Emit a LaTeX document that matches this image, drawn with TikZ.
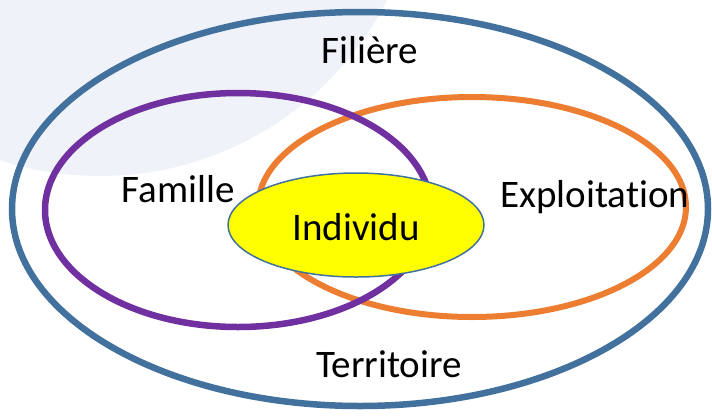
\documentclass[tikz,border=0pt]{standalone}
\usepackage{fontspec}
\setmainfont{Carlito}[Ligatures={NoCommon}]
\usepackage{tikz}
\usepackage{xcolor}
\usetikzlibrary{shapes.geometric,positioning}
\definecolor{filiere}{RGB}{65,113,156}
\definecolor{famille}{RGB}{112,48,160}
\definecolor{exploit}{RGB}{237,125,49}
\definecolor{individu}{RGB}{255,255,0}
\definecolor{backdrop}{RGB}{239,242,248}

\begin{document}
\begin{tikzpicture}[
    x=1pt, y=-1pt,
    every node/.style={font=\fontsize{39}{41}\selectfont},
    ring/.style={ellipse, draw, line width=6.5pt, inner sep=0pt},
    label/.style={anchor=base, inner sep=0pt},
]

% Page and pale backdrop
\useasboundingbox (0,0) rectangle (712,416);
\clip (0,0) rectangle (712,416);
\fill[backdrop] (100,-146) circle[radius=322];

% Rings
\node[ring, draw=filiere, minimum width=696pt, minimum height=394pt] (filiere) at (360,209) {};
\node[ring, draw=exploit, line width=6pt, minimum width=428pt, minimum height=220pt] (exploitation) at (472,207) {};
\node[ring, draw=famille, minimum width=386pt, minimum height=234pt] (famille) at (238,210) {};
\node[ellipse, draw=filiere, line width=1.5pt, fill=individu, minimum width=256pt, minimum height=104pt] (individu) at (356,225) {};

% Labels
\node[label] (t_filiere) at (370,63) {Filière};
\node[label] (t_famille) at (178,202) {Famille};
\node[label] (t_exploitation) at (595,207) {Exploitation};
\node[label] (t_individu) at (356,240) {Individu};
\node[label] (t_territoire) at (389,377) {Territoire};

\end{tikzpicture}
\end{document}
